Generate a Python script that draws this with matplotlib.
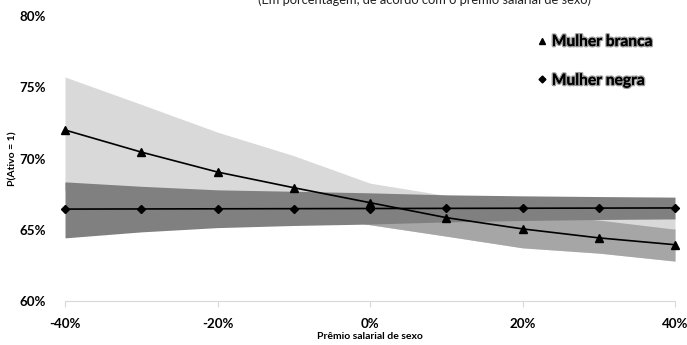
import numpy as np
import matplotlib
matplotlib.use("Agg")
import matplotlib.pyplot as plt
import matplotlib.patheffects as pe
from matplotlib.lines import Line2D
from matplotlib.ticker import FuncFormatter

plt.rcParams['font.family'] = ['Lato', 'DejaVu Sans']

# Prêmio salarial de sexo (%)
premio = [-40, -30, -20, -10, 0, 10, 20, 30, 40]

# Mulher branca: probabilidade prevista e intervalo de confiança
branca = [72.0, 70.45, 69.05, 67.95, 66.9, 65.85, 65.06, 64.43, 63.95]
branca_sup = [75.72, 73.8, 71.85, 70.2, 68.27, 67.4, 66.9, 66.5, 66.2]
branca_inf = [68.3, 67.6, 67.0, 66.3, 65.35, 64.55, 63.73, 63.36, 62.8]
branca_faixa = [67.8, 67.6, 67.4, 67.2, 67.0, 66.5, 66.1, 65.68, 65.04]

# Mulher negra: probabilidade prevista e intervalo de confiança
negra = [66.45, 66.46, 66.47, 66.48, 66.49, 66.5, 66.51, 66.52, 66.53]
negra_sup = [68.36, 68.05, 67.8, 67.7, 67.59, 67.45, 67.38, 67.33, 67.29]
negra_inf = [64.43, 64.85, 65.15, 65.3, 65.4, 65.55, 65.65, 65.72, 65.76]

x_ticks = [-40, -20, 0, 20, 40]
y_ticks = [60, 65, 70, 75, 80]

fig = plt.figure(figsize=(6.87, 3.45), dpi=100)
ax = fig.add_axes([65 / 687, 44 / 345, 610 / 687, 285 / 345])

ax.fill_between(premio, branca_inf, branca_sup, color='#d9d9d9', lw=0)
ax.fill_between(premio, branca_inf, branca_faixa, color='#a6a6a6', lw=0)
ax.fill_between(premio, negra_inf, negra_sup, color='#808080', lw=0)

ax.plot(premio, branca, color='black', lw=1.2, marker='^', ms=6, clip_on=False)
ax.plot(premio, negra, color='black', lw=1.2, marker='D', ms=4.5, clip_on=False)

ax.set_xlim(-40, 40)
ax.set_ylim(60, 80)
ax.set_xticks(x_ticks)
ax.set_yticks(y_ticks)
ax.xaxis.set_major_formatter(FuncFormatter(lambda v, p: f'{v:.0f}%'))
ax.yaxis.set_major_formatter(FuncFormatter(lambda v, p: f'{v:.0f}%'))
for s in ['top', 'right', 'left']:
    ax.spines[s].set_visible(False)
ax.spines['bottom'].set_color('#d9d9d9')
ax.tick_params(axis='x', length=4, color='#d9d9d9', pad=8, labelsize=9.6)
ax.tick_params(axis='y', length=0, pad=14, labelsize=9.6)
for lab in ax.get_xticklabels() + ax.get_yticklabels():
    lab.set_fontweight('bold')

ax.set_xlabel('Prêmio salarial de sexo', fontsize=7.5, fontweight='bold', labelpad=2)
ax.set_ylabel('P(Ativo = 1)', fontsize=7.5, fontweight='bold')
ax.yaxis.set_label_coords(-48 / 610, 0.5)

fig.text(425 / 687, 1 - 4 / 345, '(Em porcentagem, de acordo com o prêmio salarial de sexo)',
         ha='center', va='baseline', fontsize=9.3, color='#222222')

handles = [Line2D([], [], color='black', marker='^', ls='none', ms=4.5),
           Line2D([], [], color='black', marker='D', ls='none', ms=3.5)]
leg = ax.legend(handles, ['Mulher branca', 'Mulher negra'], loc='upper left',
                bbox_to_anchor=(523 / 687, 1 - 21 / 345), bbox_transform=fig.transFigure,
                frameon=False, handlelength=0.6, handletextpad=0.35, labelspacing=1.6,
                prop={'weight': 'bold', 'size': 11.2})
for t in leg.get_texts():
    t.set_path_effects([pe.withStroke(linewidth=2, foreground='#9a9a9a'), pe.Normal()])

fig.savefig('out.png', dpi=100)
